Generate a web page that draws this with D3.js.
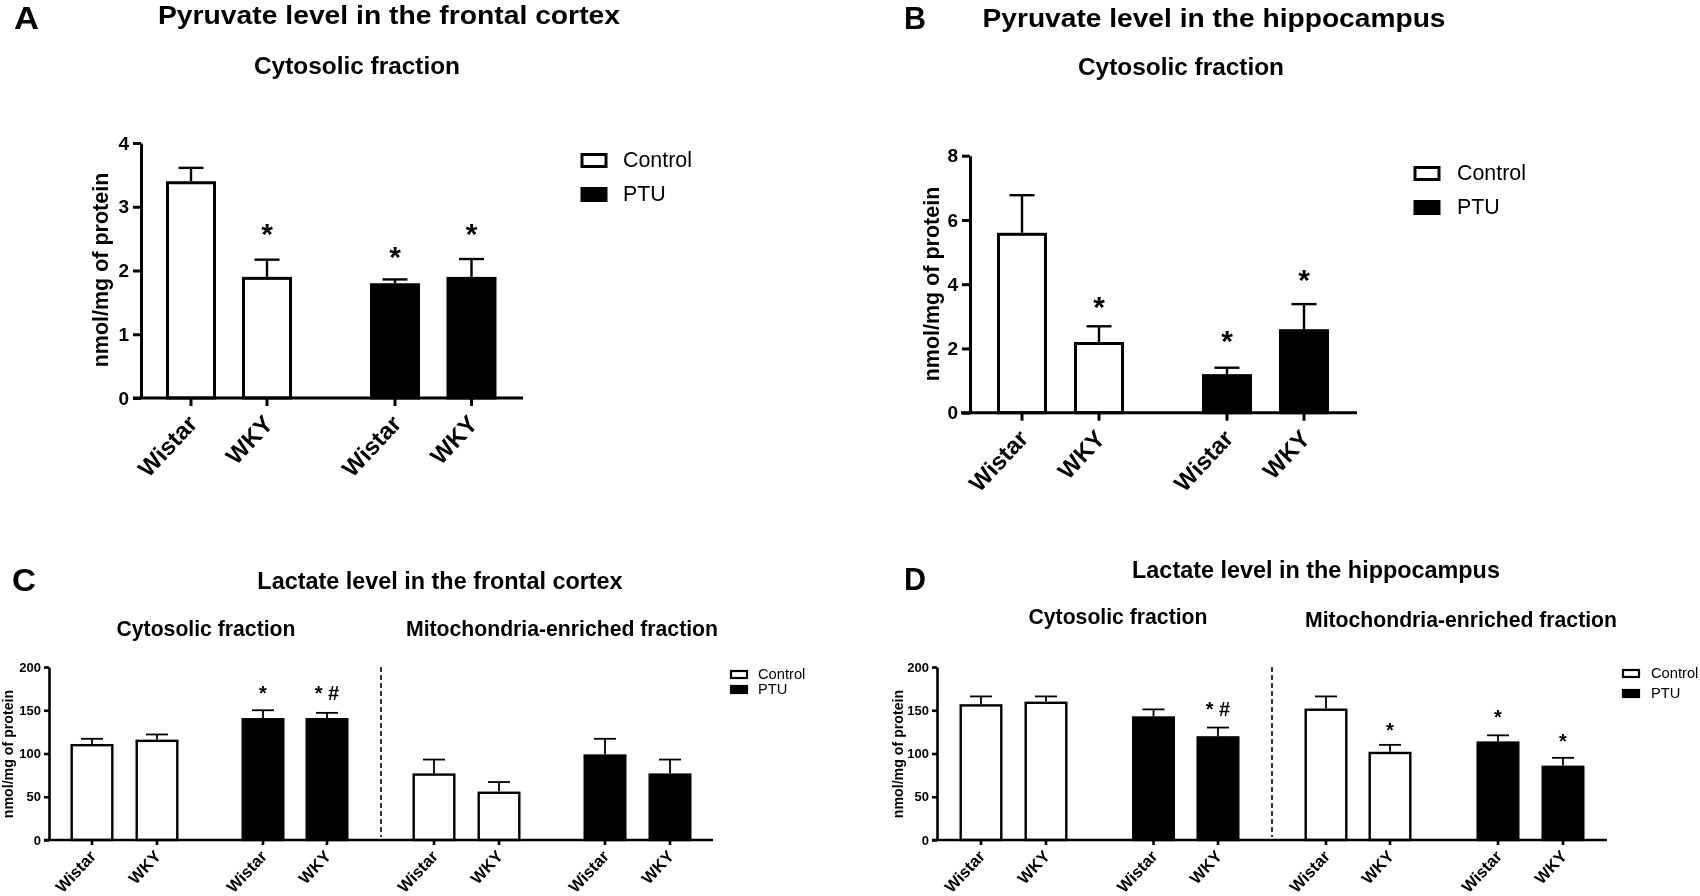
<!DOCTYPE html>
<html>
<head>
<meta charset="utf-8">
<script src="https://cdn.jsdelivr.net/npm/d3@7"></script>
<style>
  html, body { margin: 0; padding: 0; background: #fff; }
  svg { display: block; filter: blur(0.45px); }
  text { font-family: "Liberation Sans", Arial, sans-serif; fill: #000; }
</style>
</head>
<body>
<svg id="chart" width="1700" height="896"></svg>
<script>
const groupsA = ["Control", "Control", "PTU", "PTU"];
const groupsC = ["Control", "Control", "PTU", "PTU", "Control", "Control", "PTU", "PTU"];
const strains4 = ["Wistar", "WKY", "Wistar", "WKY"];
const strains8 = ["Wistar", "WKY", "Wistar", "WKY", "Wistar", "WKY", "Wistar", "WKY"];
const legendLabels = ["Control", "PTU"];

const meansA = [3.4, 1.9, 1.8, 1.9];
const topsA = [3.61, 2.17, 1.86, 2.18];
const marksA = ["", "*", "*", "*"];
const markValuesA = [0, 2.62, 2.26, 2.62];
const ticksA = [0, 1, 2, 3, 4];

const meansB = [5.6, 2.2, 1.2, 2.6];
const topsB = [6.77, 2.69, 1.4, 3.38];
const marksB = ["", "*", "*", "*"];
const markValuesB = [0, 3.38, 2.32, 4.22];
const ticksB = [0, 2, 4, 6, 8];

const meansC = [111, 116, 141, 141, 77, 56, 99, 77];
const topsC = [117, 122, 150, 147, 93, 67, 117, 93];
const marksC = ["", "", "*", "* #", "", "", "", ""];
const markValuesC = [0, 0, 171, 171, 0, 0, 0, 0];

const meansD = [157, 160, 143, 120, 152, 102, 114, 86];
const topsD = [166, 166, 151, 130, 166, 110, 121, 95];
const marksD = ["", "", "", "* #", "", "*", "*", "*"];
const markValuesD = [0, 0, 0, 153, 0, 129, 144, 116];
const ticksCD = [0, 50, 100, 150, 200];

const svg = d3.select("#chart");

// one panel: bars, error bars, both axes, star marks and legend
function drawPanel(p) {
  const g = svg.append("g");
  const y = d3.scaleLinear().domain(p.yDomain).range([p.yBottom, p.yTop]);
  const x = d3.scaleOrdinal().domain(d3.range(p.means.length)).range(p.xTicks);
  const idx = d3.range(p.means.length);

  // Y axis
  const yAxis = g.append("g")
    .attr("transform", `translate(${p.axisX},0)`)
    .call(d3.axisLeft(y).tickValues(p.ticks).tickFormat(d3.format("d")).tickSize(p.tick).tickSizeOuter(0).tickPadding(p.tickPad));
  yAxis.select(".domain").attr("stroke", "#000").attr("stroke-width", p.axisW);
  yAxis.selectAll("line").attr("stroke", "#000").attr("stroke-width", p.axisW);
  yAxis.selectAll("text").attr("font-size", p.tickFont).attr("font-weight", "bold").attr("font-family", "Liberation Sans");

  // error bars first so the bar top sits over them
  g.selectAll(".stem").data(idx).enter().append("line")
    .attr("x1", (i) => x(i)).attr("x2", (i) => x(i))
    .attr("y1", (i) => y(p.means[i])).attr("y2", (i) => y(p.tops[i]))
    .attr("stroke", "#000").attr("stroke-width", p.errW);
  g.selectAll(".cap").data(idx).enter().append("line")
    .attr("x1", (i) => x(i) - p.cap).attr("x2", (i) => x(i) + p.cap)
    .attr("y1", (i) => y(p.tops[i])).attr("y2", (i) => y(p.tops[i]))
    .attr("stroke", "#000").attr("stroke-width", p.errW);

  // bars, border drawn inside the bar's box
  g.selectAll(".bar").data(idx).enter().append("rect")
    .attr("x", (i) => x(i) - p.barW / 2 + p.barStroke / 2)
    .attr("y", (i) => y(p.means[i]) + p.barStroke / 2)
    .attr("width", p.barW - p.barStroke)
    .attr("height", (i) => y(0) - y(p.means[i]) - p.barStroke / 2)
    .attr("fill", (i) => (p.groups[i] === "PTU" ? "#000" : "#fff"))
    .attr("stroke", "#000")
    .attr("stroke-width", p.barStroke);

  // X axis
  const xAxis = g.append("g").attr("transform", `translate(0,${p.yBottom})`);
  xAxis.append("line")
    .attr("x1", p.axisStart).attr("x2", p.axisEnd)
    .attr("stroke", "#000").attr("stroke-width", p.axisW);
  xAxis.selectAll(".tick").data(idx).enter().append("line")
    .attr("x1", (i) => x(i)).attr("x2", (i) => x(i))
    .attr("y1", 0).attr("y2", p.tick)
    .attr("stroke", "#000").attr("stroke-width", p.axisW);
  xAxis.selectAll(".label").data(idx).enter().append("text")
    .attr("transform", (i) => `translate(${x(i) + p.labelDx},${p.labelDy}) rotate(-47)`)
    .attr("text-anchor", "end")
    .attr("font-size", p.labelFont)
    .attr("font-weight", "bold")
    .text((i) => p.strains[i]);

  // star marks
  g.selectAll(".mark").data(idx.filter((i) => p.marks[i])).enter().append("text")
    .attr("x", (i) => x(i))
    .attr("y", (i) => y(p.markValues[i]) + p.markFont * 0.42)
    .attr("text-anchor", "middle")
    .attr("font-size", p.markFont)
    .attr("font-weight", "bold")
    .text((i) => p.marks[i]);

  // y title
  g.append("text")
    .attr("transform", `translate(${p.yTitleX},${p.yTitleY}) rotate(-90)`)
    .attr("text-anchor", "middle")
    .attr("dy", "0.35em")
    .attr("font-size", p.yTitleFont)
    .attr("font-weight", "bold")
    .text("nmol/mg of protein");

  // legend
  legendLabels.forEach((name, i) => {
    g.append("rect")
      .attr("x", p.legendX).attr("y", p.legendY[i])
      .attr("width", p.swatchW).attr("height", p.swatchH)
      .attr("fill", name === "PTU" ? "#000" : "#fff")
      .attr("stroke", "#000").attr("stroke-width", p.swatchStroke);
    g.append("text")
      .attr("x", p.legendTextX).attr("y", p.legendY[i] + p.swatchH / 2)
      .attr("dy", "0.3em")
      .attr("font-size", p.legendFont)
      .text(name);
  });

  // dashed divider between the two fractions
  if (p.dividerX) {
    g.append("line")
      .attr("x1", p.dividerX).attr("x2", p.dividerX)
      .attr("y1", p.yTop).attr("y2", y(0) - 3)
      .attr("stroke", "#000").attr("stroke-width", 1.6)
      .attr("stroke-dasharray", "5,3");
  }
}

const big = {
  tickFont: 19, tickPad: 4, tick: 8, axisW: 3, errW: 2.4, cap: 12.5, barW: 50,
  barStroke: 3, labelFont: 24, labelDx: 7.5, labelDy: 27, yTitleFont: 21.5, markFont: 30,
  swatchW: 24, swatchH: 12, swatchStroke: 3, legendFont: 21.4, strains: strains4, groups: groupsA
};
const small = {
  tickFont: 13, tickPad: 3, tick: 5, axisW: 2.6, errW: 1.8, cap: 11, barW: 43,
  barStroke: 2.4, labelFont: 16.5, labelDx: 5, labelDy: 17, yTitleFont: 14.2, markFont: 20,
  swatchW: 16, swatchH: 7, swatchStroke: 2.2, legendFont: 14.7, strains: strains8, groups: groupsC
};

drawPanel({ ...big, means: meansA, tops: topsA, marks: marksA, markValues: markValuesA,
  ticks: ticksA, yDomain: [0, 4], yTop: 143, yBottom: 398, axisX: 141, axisStart: 133, axisEnd: 523,
  xTicks: [191, 267, 395, 471.5], yTitleX: 100, yTitleY: 270,
  legendX: 582, legendY: [154.5, 188.5], legendTextX: 623 });

drawPanel({ ...big, means: meansB, tops: topsB, marks: marksB, markValues: markValuesB,
  ticks: ticksB, yDomain: [0, 8], yTop: 155.7, yBottom: 412.7, axisX: 970, axisStart: 961, axisEnd: 1357,
  xTicks: [1022, 1099, 1227, 1304], yTitleX: 931, yTitleY: 284,
  legendX: 1415, legendY: [167.5, 201.5], legendTextX: 1457 });

drawPanel({ ...small, means: meansC, tops: topsC, marks: marksC, markValues: markValuesC,
  ticks: ticksCD, yDomain: [0, 200], yTop: 667, yBottom: 840, axisX: 49, axisStart: 44, axisEnd: 713,
  xTicks: [92, 157, 263, 327, 434, 499, 605, 670], yTitleX: 8, yTitleY: 754,
  legendX: 731, legendY: [671, 686], legendTextX: 758, dividerX: 381 });

drawPanel({ ...small, means: meansD, tops: topsD, marks: marksD, markValues: markValuesD,
  ticks: ticksCD, yDomain: [0, 200], yTop: 667, yBottom: 840, axisX: 937, axisStart: 932, axisEnd: 1607,
  xTicks: [981, 1046, 1153.5, 1218, 1326, 1390, 1498, 1563], yTitleX: 898, yTitleY: 754,
  legendX: 1623, legendY: [670, 690], legendTextX: 1651, dividerX: 1272 });

// titles and panel letters; the two top titles are stretched wide in the original
const headings = [
  { t: "Pyruvate level in the frontal cortex", x: 389, y: 14.8, s: 26.5, w: 462 },
  { t: "Pyruvate level in the hippocampus", x: 1214, y: 17.5, s: 26.5, w: 463 },
  { t: "Cytosolic fraction", x: 357, y: 65, s: 24.4 },
  { t: "Cytosolic fraction", x: 1181, y: 66, s: 24.4 },
  { t: "Lactate level in the frontal cortex", x: 440, y: 581, s: 23.4 },
  { t: "Cytosolic fraction", x: 206, y: 629, s: 21.2 },
  { t: "Mitochondria-enriched fraction", x: 562, y: 629, s: 21.2 },
  { t: "Lactate level in the hippocampus", x: 1316, y: 570, s: 23.4 },
  { t: "Cytosolic fraction", x: 1118, y: 617, s: 21.2 },
  { t: "Mitochondria-enriched fraction", x: 1461, y: 620, s: 21.2 }
];
svg.selectAll(".heading").data(headings).enter().append("text")
  .attr("x", (d) => d.x).attr("y", (d) => d.y)
  .attr("dy", "0.35em")
  .attr("text-anchor", "middle")
  .attr("font-size", (d) => d.s)
  .attr("font-weight", "bold")
  .attr("textLength", (d) => d.w || null)
  .attr("lengthAdjust", (d) => (d.w ? "spacingAndGlyphs" : null))
  .text((d) => d.t);

const letters = [
  { t: "A", x: 14, y: 29.3, w: 25 }, { t: "B", x: 904, y: 28.5, w: 22 },
  { t: "C", x: 12, y: 591, w: 24 }, { t: "D", x: 904, y: 590, w: 22 }
];
svg.selectAll(".letter").data(letters).enter().append("text")
  .attr("x", (d) => d.x).attr("y", (d) => d.y)
  .attr("font-size", 31)
  .attr("font-weight", "bold")
  .attr("textLength", (d) => d.w)
  .attr("lengthAdjust", "spacingAndGlyphs")
  .text((d) => d.t);
</script>
</body>
</html>
